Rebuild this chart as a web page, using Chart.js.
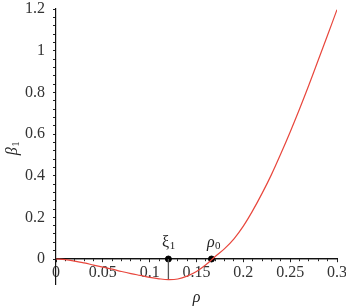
<!DOCTYPE html>
<html>
<head>
<meta charset="utf-8">
<script src="https://cdn.jsdelivr.net/npm/chart.js@4.4.1/dist/chart.umd.min.js"></script>
<style>
    html, body { margin: 0; padding: 0; background: #fff; }
    #wrap { width: 346px; height: 306px; }
</style>
</head>
<body>
<div id="wrap"><canvas id="betaChart" width="346" height="306"></canvas></div>
<script>
// values
const rho = [0, 0.01, 0.02, 0.03, 0.04, 0.05, 0.06, 0.07, 0.08, 0.09, 0.10,
    0.11, 0.12, 0.13, 0.14, 0.15, 0.16, 0.17, 0.18, 0.19, 0.20,
    0.21, 0.22, 0.23, 0.24, 0.25, 0.26, 0.27, 0.28, 0.29, 0.30];
const beta1 = [0, -0.003, -0.01, -0.019, -0.029, -0.039, -0.049, -0.06, -0.07, -0.079, -0.088,
    -0.095, -0.099, -0.096, -0.082, -0.06, -0.028, 0.012, 0.05, 0.097, 0.158,
    0.232, 0.315, 0.405, 0.505, 0.61, 0.72, 0.835, 0.955, 1.075, 1.197];

const markerRho = [0.12, 0.166];
const markerLabels = [['ξ', '1'], ['ρ', '0']];
const xiDrop = [0, -0.099]; // vertical segment at ξ1

const xRange = [0, 0.3];
const yRange = [-0.12, 1.2];
const xMajorStep = 0.05, xMinorStep = 0.01;
const yMajorStep = 0.2, yMinorStep = 0.04;

const serif = "'Liberation Serif', 'DejaVu Serif', serif";
const fmt = v => String(+Number(v).toFixed(2));

document.addEventListener('DOMContentLoaded', function () {
    const ctx = document.getElementById('betaChart');

    // symbol with a small subscript, e.g. ξ1
    function subText(c, pair, x, y, italic) {
        c.font = (italic ? 'italic ' : '') + '16px ' + serif;
        const w1 = c.measureText(pair[0]).width;
        c.font = '11px ' + serif;
        const w2 = c.measureText(pair[1]).width;
        const x0 = x - (w1 + w2) / 2;
        c.textAlign = 'left';
        c.font = (italic ? 'italic ' : '') + '16px ' + serif;
        c.fillText(pair[0], x0, y);
        c.font = '11px ' + serif;
        c.fillText(pair[1], x0 + w1 + 0.5, y + 2);
    }

    // 1. text labels: markers and axis titles
    const textPlugin = {
        id: 'texts',
        afterDraw(chart) {
            const c = chart.ctx;
            const xs = chart.scales.x, ys = chart.scales.y;
            const area = chart.chartArea;
            c.save();
            c.fillStyle = '#222';
            c.textBaseline = 'alphabetic';
            markerLabels.forEach((lab, i) => {
                subText(c, lab, xs.getPixelForValue(markerRho[i]) + (i ? 2 : 0), ys.getPixelForValue(0) - 12, i === 1);
            });
            c.textAlign = 'center';
            c.font = 'italic 16px ' + serif;
            c.fillText('ρ', (area.left + area.right) / 2, 302);
            c.translate(17, (area.top + area.bottom) / 2 + 2);
            c.rotate(-Math.PI / 2);
            subText(c, ['β', '1'], 0, 0, true);
            c.restore();
        }
    };

    const x = {
        type: 'linear', position: { y: 0 }, min: xRange[0], max: xRange[1],
        grid: { drawOnChartArea: false, drawTicks: true, tickLength: 3, color: '#222' },
        border: { color: '#111', width: 1.2 },
        ticks: { stepSize: xMajorStep, padding: 1, color: '#333', font: { family: serif, size: 16 }, callback: fmt, maxRotation: 0 },
        afterFit: axis => { axis.paddingRight = 0; }
    };

    const x2 = {
        type: 'linear', position: { y: 0 }, min: xRange[0], max: xRange[1],
        grid: { drawOnChartArea: false, drawTicks: true, tickLength: 2, color: '#222' },
        border: { color: '#111', width: 1.2 },
        ticks: { stepSize: xMinorStep, autoSkip: false, callback: () => '', font: { size: 1 } }
    };

    // one y axis on the left: minor step, labels only on the major ones
    const isMajorY = v => Math.abs(v / yMajorStep - Math.round(v / yMajorStep)) < 1e-6;
    const y = {
        type: 'linear', position: 'left', min: yRange[0], max: yRange[1],
        grid: {
            drawOnChartArea: false, drawTicks: true, tickLength: 3,
            color: '#222'
        },
        border: { color: '#111', width: 1.2 },
        ticks: {
            stepSize: yMinorStep, autoSkip: false, padding: 8, color: '#333',
            font: { family: serif, size: 16 },
            callback: v => isMajorY(v) ? fmt(v) : ''
        },
        afterBuildTicks: axis => { axis.ticks = axis.ticks.filter(t => t.value > -1e-9); },
        afterFit: axis => { axis.paddingTop = 0; axis.paddingBottom = 0; }
    };

    new Chart(ctx, {
        type: 'line',
        data: {
            datasets: [{
                label: 'beta1',
                data: rho.map((r, i) => ({ x: r, y: beta1[i] })),
                borderColor: '#e8463c',
                borderWidth: 1.2,
                pointRadius: 0,
                tension: 0.4
            }, {
                label: 'xi drop',
                data: xiDrop.map(v => ({ x: markerRho[0], y: v })),
                borderColor: '#555',
                borderWidth: 1.3,
                pointRadius: 0
            }, {
                label: 'markers',
                data: markerRho.map(r => ({ x: r, y: 0 })),
                showLine: false,
                pointRadius: 3,
                pointBackgroundColor: '#000',
                pointBorderColor: '#000'
            }]
        },
        options: {
            responsive: false,
            animation: false,
            layout: { padding: { left: 17, right: 9, top: 9, bottom: 22 } },
            plugins: {
                legend: { display: false },
                tooltip: { enabled: false }
            },
            scales: { x: x, x2: x2, y: y }
        },
        plugins: [textPlugin]
    });
});
</script>
</body>
</html>
